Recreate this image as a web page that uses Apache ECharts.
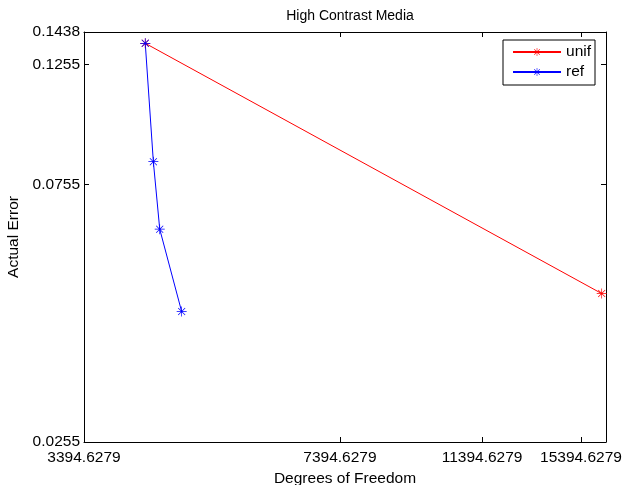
<!DOCTYPE html>
<html>
<head>
<meta charset="utf-8">
<script src="https://cdn.jsdelivr.net/npm/echarts@6/dist/echarts.min.js"></script>
<style>
  html, body { margin: 0; padding: 0; background: #fff; }
  #chart { width: 624px; height: 485px; }
</style>
</head>
<body>
<div id="chart"></div>
<script>
// data
const unifDof = [4090, 16397];
const unifErr = [0.1371, 0.0477];
const refDof = [4090, 4192, 4274, 4569];
const refErr = [0.1371, 0.0832, 0.0626, 0.0442];

const xTicks = [3394.6279, 7394.6279, 11394.6279, 15394.6279];
const yTicks = [0.0255, 0.0755, 0.1255, 0.1438];
const xMin = 3394.6279, xMax = 16613;
const yMin = 0.0255, yMax = 0.1438;

// matlab style asterisk marker
const star = 'path://M0 9.3L20 9.3L20 10.7L0 10.7Z M9.3 0L10.7 0L10.7 20L9.3 20Z M2.5 3.5L3.5 2.5L17.5 16.5L16.5 17.5Z M16.5 2.5L17.5 3.5L3.5 17.5L2.5 16.5Z';

const font = 'Liberation Sans, Arial, Helvetica, sans-serif';

function pairs(xs, ys) {
  return xs.map((x, i) => [x, ys[i]]);
}

function xAxisCfg(pos, showLabel) {
  return {
    type: 'log',
    position: pos,
    min: xMin,
    max: xMax,
    name: showLabel ? 'Degrees of Freedom' : '',
    nameLocation: 'middle',
    nameGap: 26,
    nameTextStyle: { color: '#000', fontSize: 15.5, fontFamily: font },
    axisLine: { show: true, lineStyle: { color: '#000', width: 1 } },
    axisTick: { show: true, inside: true, length: 5, customValues: xTicks, lineStyle: { color: '#000' } },
    axisLabel: {
      show: showLabel, customValues: xTicks, margin: 8,
      color: '#000', fontSize: 15.5, fontFamily: font,
      formatter: v => Number(v).toFixed(4)
    },
    splitLine: { show: false },
    minorTick: { show: false }
  };
}

function yAxisCfg(pos, showLabel) {
  return {
    type: 'log',
    position: pos,
    min: yMin,
    max: yMax,
    name: showLabel ? 'Actual Error' : '',
    nameLocation: 'middle',
    nameGap: 62,
    nameTextStyle: { color: '#000', fontSize: 15.5, fontFamily: font },
    axisLine: { show: true, lineStyle: { color: '#000', width: 1 } },
    axisTick: { show: true, inside: true, length: 5, customValues: yTicks, lineStyle: { color: '#000' } },
    axisLabel: {
      show: showLabel, customValues: yTicks, margin: 4,
      color: '#000', fontSize: 15.5, fontFamily: font,
      formatter: v => Number(v).toFixed(4)
    },
    splitLine: { show: false },
    minorTick: { show: false }
  };
}

const myChart = echarts.init(document.getElementById('chart'));
myChart.setOption({
  animation: false,
  title: {
    text: 'High Contrast Media',
    left: 345,
    textAlign: 'center',
    top: 4,
    textStyle: { color: '#000', fontSize: 14, fontWeight: 'normal', fontFamily: font }
  },
  legend: {
    right: 29,
    top: 40,
    orient: 'vertical',
    itemWidth: 48,
    itemHeight: 10,
    itemGap: 4,
    padding: [4, 4, 5, 9],
    borderColor: '#000',
    borderWidth: 1,
    backgroundColor: '#fff',
    borderRadius: 0,
    textStyle: { color: '#000', fontSize: 15.5, fontFamily: font },
    data: ['unif', 'ref']
  },
  grid: { left: 84, right: 18, top: 32, bottom: 43, outerBoundsMode: 'none' },
  xAxis: [xAxisCfg('bottom', true), xAxisCfg('top', false)],
  yAxis: [yAxisCfg('left', true), yAxisCfg('right', false)],
  series: [
    {
      name: 'unif',
      type: 'line',
      data: pairs(unifDof, unifErr),
      color: '#ff0000',
      symbol: star,
      symbolSize: 10,
      showAllSymbol: true,
      lineStyle: { width: 1, color: '#ff0000' },
      itemStyle: { color: '#ff0000' }
    },
    {
      name: 'ref',
      type: 'line',
      data: pairs(refDof, refErr),
      color: '#0000ff',
      symbol: star,
      symbolSize: 10,
      showAllSymbol: true,
      lineStyle: { width: 1, color: '#0000ff' },
      itemStyle: { color: '#0000ff' }
    }
  ]
});
</script>
</body>
</html>
